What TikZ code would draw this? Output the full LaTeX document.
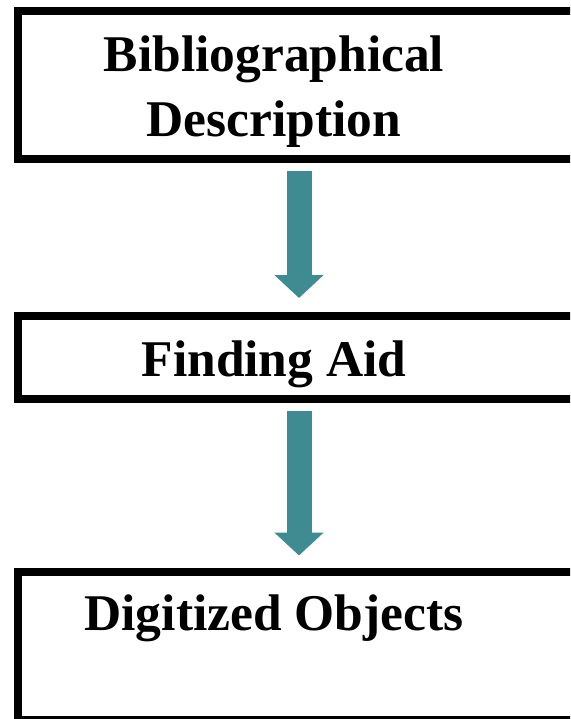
\documentclass[tikz,border=0pt]{standalone}
\usepackage{fontspec}
\setmainfont{Liberation Serif}
\usepackage{xcolor}
\usetikzlibrary{arrows.meta}
\definecolor{flowteal}{RGB}{62,140,145}
\tikzset{
  stage/.style={draw=black,line width=8pt,rectangle,inner sep=0pt,minimum width=562pt},
  stagetext/.style={anchor=base,align=center,inner sep=0pt,font=\fontsize{51.5}{65}\selectfont\bfseries},
  flow/.style={draw=flowteal,line width=25pt,-{Triangle[width=48pt,length=23pt]}}
}
\begin{document}
\begin{tikzpicture}[x=1pt,y=-1pt]
\useasboundingbox(0,0)rectangle(570,719);
\clip(0,0)rectangle(570,719);
\node[stage,minimum height=148pt](desc)at(299,85){};
\node[stage,minimum height=83.5pt](find)at(299,357.25){};
\node[stage,minimum height=148pt](digi)at(299,645.5){};
\node[stagetext](desctext)at(274,136.7){Bibliographical\\Description};
\node[stagetext](findtext)at(274,376.7){Finding Aid};
\node[stagetext](digitext)at(274,630.7){Digitized Objects};
\draw[flow]([yshift=-7.7pt]desc.south)--([yshift=13.5pt]find.north);
\draw[flow]([yshift=-8pt]find.south)--([yshift=12pt]digi.north);
\end{tikzpicture}
\end{document}
